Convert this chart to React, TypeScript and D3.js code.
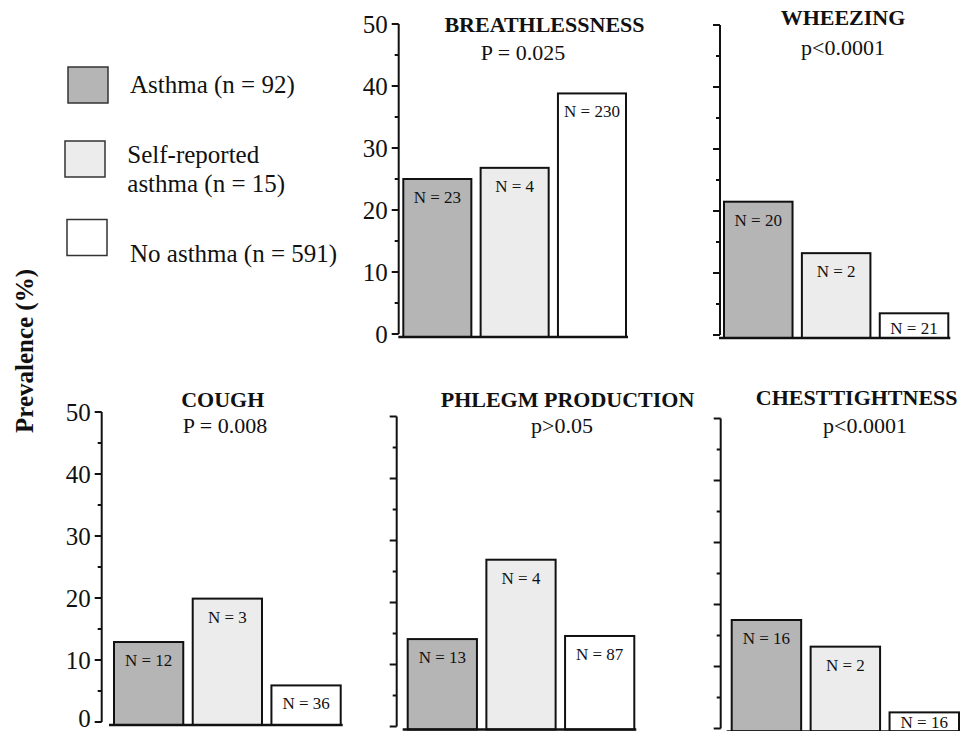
import React from "react";
import * as d3 from "d3";

// ---- data ----
const groups = ["Asthma (n = 92)", "Self-reported\nasthma (n = 15)", "No asthma (n = 591)"];
const symptoms = ["BREATHLESSNESS", "WHEEZING", "COUGH", "PHLEGM PRODUCTION", "CHESTTIGHTNESS"];
const pValues = ["P = 0.025", "p<0.0001", "P = 0.008", "p>0.05", "p<0.0001"];
const prevalence = [
  [25.0, 26.8, 38.8],
  [21.5, 13.2, 3.5],
  [12.9, 19.9, 5.9],
  [14.1, 26.9, 14.6],
  [17.5, 13.2, 2.6],
];
const counts = [
  [23, 4, 230],
  [20, 2, 21],
  [12, 3, 36],
  [13, 4, 87],
  [16, 2, 16],
];
const yTicks = [0, 10, 20, 30, 40, 50];
const yMinorTicks = [5, 15, 25, 35, 45];

// ---- layout (scanned figure, panels are not perfectly aligned) ----
const panelLayout = [
  { axisX: 398.7, y0: 334, x0: 403.3, x1: 626, titleX: 544.5, titleY: 32, pX: 523, pY: 60, labels: true },
  { axisX: 720, y0: 335, x0: 724, x1: 948.3, titleX: 843, titleY: 25, pX: 843, pY: 55, labels: false },
  { axisX: 101.7, y0: 722, x0: 114, x1: 340.7, titleX: 222.7, titleY: 406.7, pX: 225, pY: 433.3, labels: true },
  { axisX: 396.7, y0: 726.5, x0: 407.7, x1: 634.3, titleX: 567.5, titleY: 406.7, pX: 562, pY: 433.3, labels: false },
  { axisX: 720.7, y0: 728.5, x0: 731.7, x1: 959, titleX: 856.7, titleY: 405, pX: 865, pY: 433, labels: false },
];
const legendLayout = [
  { bx: 68, by: 67, tx: 130, ty: 93.3 },
  { bx: 65, by: 141, tx: 127.3, ty: 163.3 },
  { bx: 67, by: 219.5, tx: 130, ty: 261.7 },
];

const fills = ["#b5b5b5", "#ececec", "#ffffff"];
const FONT = "'Liberation Serif', 'Times New Roman', serif";
const PANEL_H = 310;
const H = 731;

const Panel = ({ i }: { i: number }) => {
  const L = panelLayout[i];
  const y = d3.scaleLinear().domain([0, 50]).range([L.y0, L.y0 - PANEL_H]);
  const x = d3.scaleBand<number>().domain([0, 1, 2]).range([L.x0, L.x1]).paddingInner(0.12);
  const base = L.y0 + 3;
  return (
    <g>
      {/* axis */}
      <line x1={L.axisX} x2={L.axisX} y1={y(50)} y2={y(0)} stroke="#111" strokeWidth={2} />
      {yTicks.map((t) => (
        <g key={"t" + t}>
          <line x1={L.axisX - 7} x2={L.axisX} y1={y(t)} y2={y(t)} stroke="#111" strokeWidth={2} />
          {L.labels && (
            <text x={L.axisX - 11} y={Math.min(y(t) + 8.7, H - 4)} textAnchor="end" fontSize={25} fontFamily={FONT} fill="#111">
              {t}
            </text>
          )}
        </g>
      ))}
      {yMinorTicks.map((t) => (
        <line key={"m" + t} x1={L.axisX - 4} x2={L.axisX} y1={y(t)} y2={y(t)} stroke="#111" strokeWidth={2} />
      ))}
      {/* bars */}
      {prevalence[i].map((v, j) => {
        const top = y(v);
        const ly = Math.min(top + 24, L.y0 - 1);
        return (
          <g key={"b" + j}>
            <rect x={x(j)} y={top} width={x.bandwidth()} height={base - top} fill={fills[j]} stroke="#111" strokeWidth={2} />
            <text x={(x(j) as number) + x.bandwidth() / 2} y={ly} textAnchor="middle" fontSize={17} fontFamily={FONT} fill="#111">
              {`N = ${counts[i][j]}`}
            </text>
          </g>
        );
      })}
      <line x1={L.x0 - 5} x2={L.x1 + 2} y1={base} y2={base} stroke="#111" strokeWidth={2.5} />
      {/* titles */}
      <text x={L.titleX} y={L.titleY} textAnchor="middle" fontSize={22} fontWeight="bold" fontFamily={FONT} fill="#111">
        {symptoms[i]}
      </text>
      <text x={L.pX} y={L.pY} textAnchor="middle" fontSize={22} fontFamily={FONT} fill="#111">
        {pValues[i]}
      </text>
    </g>
  );
};

export default function App() {
  return (
    <svg width={960} height={H} style={{ position: "absolute", left: 0, top: 0, background: "#fff" }}>
      <rect width={960} height={H} fill="#fff" />
      {symptoms.map((s, i) => (
        <Panel key={s} i={i} />
      ))}
      {/* legend */}
      {groups.map((g, j) => {
        const L = legendLayout[j];
        const lines = g.split("\n");
        return (
          <g key={g}>
            <rect x={L.bx} y={L.by} width={40} height={36} fill={fills[j]} stroke="#333" strokeWidth={1.5} />
            {lines.map((ln, k) => (
              <text key={k} x={L.tx} y={L.ty + k * 28.4} fontSize={25} fontFamily={FONT} fill="#111">
                {ln}
              </text>
            ))}
          </g>
        );
      })}
      <text transform="translate(33,351) rotate(-90)" textAnchor="middle" fontSize={25} fontWeight="bold" fontFamily={FONT} fill="#111">
        Prevalence (%)
      </text>
    </svg>
  );
}
